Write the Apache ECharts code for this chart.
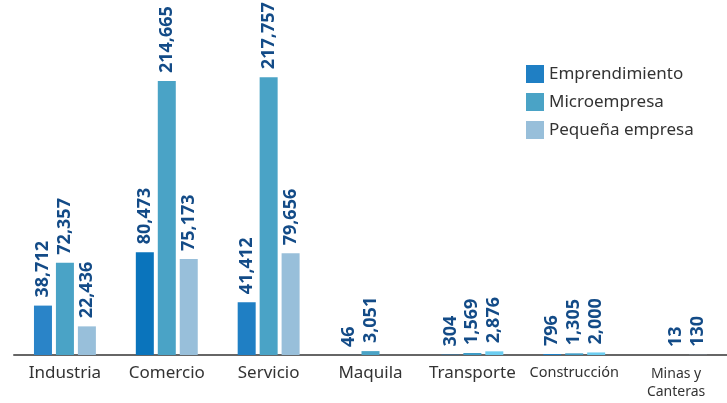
<!DOCTYPE html>
<html>
<head>
<meta charset="utf-8">
<script src="https://cdn.jsdelivr.net/npm/echarts@6/dist/echarts.min.js"></script>
<style>
  html, body { margin: 0; padding: 0; background: #fff; }
  #chart { width: 727px; height: 403px; }
</style>
</head>
<body>
<div id="chart"></div>
<script>
// datos
const categories = ['Industria', 'Comercio', 'Servicio', 'Maquila', 'Transporte', 'Construcción', 'Minas y\nCanteras'];
const emprendimiento = [38712, 80473, 41412, 46, 304, 796, null];
const microempresa = [72357, 214665, 217757, 3051, 1569, 1305, 13];
const pequenaEmpresa = [22436, 75173, 79656, null, 2876, 2000, 130];

// colores por barra (el original no es del todo uniforme)
const colEmp = ['#2a84c8', '#0a74bc', '#1f7fc4', '#1f7fc4', '#1f7fc4', '#1f7fc4', '#1f7fc4'];
const colMic = ['#4aa3c6', '#4aa3c6', '#4aa3c6', '#4aa3c6', '#3f9cc6', '#3f9cc6', '#4aa3c6'];
const colPeq = ['#98bfda', '#98bfda', '#98bfda', '#98bfda', '#6ccdf0', '#6ccdf0', '#9bc4de'];

const chart = echarts.init(document.getElementById('chart'));

const label = {
  show: true,
  position: 'top',
  rotate: 90,
  align: 'left',
  verticalAlign: 'middle',
  distance: 8,
  fontFamily: 'Noto Sans',
  fontWeight: 'bold',
  fontSize: 18,
  color: '#134b87',
  formatter: p => p.value == null ? '' : p.value.toLocaleString('en-US')
};

const mkSeries = (name, data, cols) => ({
  name: name,
  type: 'bar',
  data: data,
  barWidth: 18,
  barGap: '22%',
  itemStyle: { color: p => cols[p.dataIndex] },
  label: label
});

chart.setOption({
  animation: false,
  textStyle: { fontFamily: 'Noto Sans' },
  legend: {
    orient: 'vertical',
    left: 521,
    top: 60,
    itemWidth: 18,
    itemHeight: 18,
    itemGap: 10,
    icon: 'rect',
    textStyle: { fontSize: 17, color: '#333', fontFamily: 'Noto Sans' },
    data: [
      { name: 'Emprendimiento', itemStyle: { color: '#1f7fc4' } },
      { name: 'Microempresa', itemStyle: { color: '#4aa3c6' } },
      { name: 'Pequeña empresa', itemStyle: { color: '#98bfda' } }
    ]
  },
  grid: { left: 14, right: -12, top: 36, bottom: 48 },
  xAxis: {
    type: 'category',
    data: categories,
    axisLine: { lineStyle: { color: '#666', width: 2 } },
    axisTick: { show: false },
    axisLabel: {
      interval: 0,
      margin: 10,
      color: '#333',
      fontSize: 17,
      fontFamily: 'Noto Sans',
      formatter: v => {
        if (v === 'Construcción') return '{s|' + v + '}';
        if (v.indexOf('Minas') === 0) return '{m|Minas y}\n{m|Canteras}';
        return v;
      },
      rich: {
        s: { fontSize: 14.5, color: '#333', fontFamily: 'Noto Sans' },
        m: { fontSize: 14, color: '#333', fontFamily: 'Noto Sans', lineHeight: 18 }
      }
    }
  },
  yAxis: {
    type: 'value',
    min: 0,
    max: 250000,
    show: false,
    splitLine: { show: false }
  },
  series: [
    mkSeries('Emprendimiento', emprendimiento, colEmp),
    mkSeries('Microempresa', microempresa, colMic),
    mkSeries('Pequeña empresa', pequenaEmpresa, colPeq)
  ]
});
</script>
</body>
</html>
